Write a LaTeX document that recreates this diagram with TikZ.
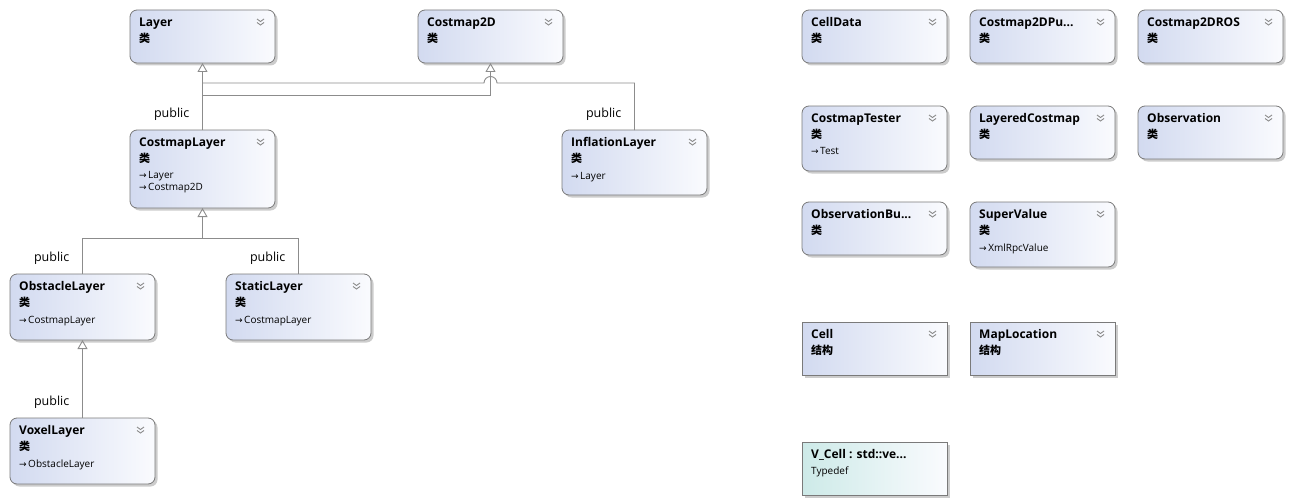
\documentclass[tikz,border=0pt]{standalone}
\usepackage{fontspec}
\setmainfont{Open Sans}
\newfontfamily\cjk{Noto Sans CJK SC}
\newfontfamily\arrowfont{DejaVu Sans}
\usetikzlibrary{arrows.meta,positioning,shadows}

\definecolor{boxline}{HTML}{7A7A7A}
\definecolor{clsleft}{HTML}{D2DAF0}
\definecolor{clsright}{HTML}{FAFBFE}
\definecolor{tdleft}{HTML}{CDEAE8}
\definecolor{connline}{HTML}{8C8C8C}
\definecolor{chevgray}{HTML}{8A8A8A}

\newcommand\boxtitle{\fontsize{12}{12}\selectfont\bfseries}
\newcommand\kindcls{{\cjk\fontsize{11}{12}\selectfont\bfseries 类}}
\newcommand\kindstruct{{\cjk\fontsize{11}{12}\selectfont\bfseries 结构}}
\newcommand\inharrow{{\arrowfont\fontsize{9}{12}\selectfont →}\hspace{1.5pt}}
\lineskiplimit=-20pt

\begin{document}
\begin{tikzpicture}[x=1pt,y=1pt,
  chev/.style={draw=chevgray,line width=0.9pt,sharp corners},
  cls/.style={rectangle,draw=boxline,line width=0.8pt,rounded corners=7pt,
    left color=clsleft,right color=clsright,minimum width=145pt,
    inner sep=0pt,outer sep=0pt,anchor=north west,
    drop shadow={shadow xshift=2.5pt,shadow yshift=-2.5pt,fill=black!25,opacity=0.8},
    path picture={
      \draw[chev] ([xshift=-18pt,yshift=-9pt]path picture bounding box.north east) -- ++(3.5pt,-2.5pt) -- ++(3.5pt,2.5pt);
      \draw[chev] ([xshift=-18pt,yshift=-12.5pt]path picture bounding box.north east) -- ++(3.5pt,-2.5pt) -- ++(3.5pt,2.5pt);
    }},
  strct/.style={cls,sharp corners},
  tdef/.style={cls,sharp corners,left color=tdleft,path picture={}},
  txt/.style={anchor=north west,inner sep=0pt,align=left,font=\fontsize{10}{12}\selectfont},
  pub/.style={anchor=east,inner sep=0pt,font=\fontsize{12.5}{13}\selectfont},
  conn/.style={draw=connline,line width=0.9pt},
  inh/.style={conn,-{Triangle[open,length=9pt,width=10pt]}}
]
  \useasboundingbox (0,0) rectangle (1291,-503);

  % class hierarchy
  \node[cls,minimum height=53] (lay) at (130,-10) {};
  \node[txt] (lay-t) at ([xshift=9,yshift=-7.5]lay.north west) {{\boxtitle Layer}\\[4pt]\kindcls};
  \node[cls,minimum height=53] (cm2d) at (418,-10) {};
  \node[txt] (cm2d-t) at ([xshift=9,yshift=-7.5]cm2d.north west) {{\boxtitle Costmap2D}\\[4pt]\kindcls};
  \node[cls,minimum height=78] (cml) at (130,-130) {};
  \node[txt] (cml-t) at ([xshift=9,yshift=-7.5]cml.north west) {{\boxtitle CostmapLayer}\\[4pt]\kindcls\\[4.5pt]\inharrow Layer\\\inharrow Costmap2D};
  \node[cls,minimum height=65] (infl) at (562,-130) {};
  \node[txt] (infl-t) at ([xshift=9,yshift=-7.5]infl.north west) {{\boxtitle InflationLayer}\\[4pt]\kindcls\\[4.5pt]\inharrow Layer};
  \node[cls,minimum height=66] (obs) at (10,-274) {};
  \node[txt] (obs-t) at ([xshift=9,yshift=-7.5]obs.north west) {{\boxtitle ObstacleLayer}\\[4pt]\kindcls\\[4.5pt]\inharrow CostmapLayer};
  \node[cls,minimum height=66] (stat) at (226,-274) {};
  \node[txt] (stat-t) at ([xshift=9,yshift=-7.5]stat.north west) {{\boxtitle StaticLayer}\\[4pt]\kindcls\\[4.5pt]\inharrow CostmapLayer};
  \node[cls,minimum height=66] (vox) at (10,-418) {};
  \node[txt] (vox-t) at ([xshift=9,yshift=-7.5]vox.north west) {{\boxtitle VoxelLayer}\\[4pt]\kindcls\\[4.5pt]\inharrow ObstacleLayer};

  % inheritance
  \draw[inh] (cml.north) -- (lay.south);
  \draw[inh] ([yshift=35]cml.north) -| (cm2d.south);
  \coordinate (hop) at (cm2d.south |- 0,-83);
  \draw[conn] (infl.north) |- ([xshift=6.5]hop) arc[start angle=0,end angle=180,radius=6.5] -- (hop -| lay.south);
  \draw[inh] (obs.north) |- ([yshift=-30]cml.south) -- (cml.south);
  \draw[conn] (stat.north) |- ([yshift=-30]cml.south);
  \draw[inh] (vox.north) -- (obs.south);
  \node[pub] (pub-cml) at ([xshift=-13,yshift=16]cml.north) {public};
  \node[pub] (pub-infl) at ([xshift=-13,yshift=16]infl.north) {public};
  \node[pub] (pub-obs) at ([xshift=-13,yshift=16]obs.north) {public};
  \node[pub] (pub-stat) at ([xshift=-13,yshift=16]stat.north) {public};
  \node[pub] (pub-vox) at ([xshift=-13,yshift=16]vox.north) {public};

  % other types
  \node[cls,minimum height=53] (cdat) at (802,-10) {};
  \node[txt] (cdat-t) at ([xshift=9,yshift=-7.5]cdat.north west) {{\boxtitle CellData}\\[4pt]\kindcls};
  \node[cls,minimum height=53] (cpub) at (970,-10) {};
  \node[txt] (cpub-t) at ([xshift=9,yshift=-7.5]cpub.north west) {{\boxtitle Costmap2DPu...}\\[4pt]\kindcls};
  \node[cls,minimum height=53] (cros) at (1138,-10) {};
  \node[txt] (cros-t) at ([xshift=9,yshift=-7.5]cros.north west) {{\boxtitle Costmap2DROS}\\[4pt]\kindcls};
  \node[cls,minimum height=65] (ctst) at (802,-106) {};
  \node[txt] (ctst-t) at ([xshift=9,yshift=-7.5]ctst.north west) {{\boxtitle CostmapTester}\\[4pt]\kindcls\\[4.5pt]\inharrow Test};
  \node[cls,minimum height=53] (lcm) at (970,-106) {};
  \node[txt] (lcm-t) at ([xshift=9,yshift=-7.5]lcm.north west) {{\boxtitle LayeredCostmap}\\[4pt]\kindcls};
  \node[cls,minimum height=53] (obsv) at (1138,-106) {};
  \node[txt] (obsv-t) at ([xshift=9,yshift=-7.5]obsv.north west) {{\boxtitle Observation}\\[4pt]\kindcls};
  \node[cls,minimum height=53] (obuf) at (802,-202) {};
  \node[txt] (obuf-t) at ([xshift=9,yshift=-7.5]obuf.north west) {{\boxtitle ObservationBu...}\\[4pt]\kindcls};
  \node[cls,minimum height=65] (sval) at (970,-202) {};
  \node[txt] (sval-t) at ([xshift=9,yshift=-7.5]sval.north west) {{\boxtitle SuperValue}\\[4pt]\kindcls\\[4.5pt]\inharrow XmlRpcValue};
  \node[strct,minimum height=53] (cell) at (802,-322) {};
  \node[txt] (cell-t) at ([xshift=9,yshift=-7.5]cell.north west) {{\boxtitle Cell}\\[4pt]\kindstruct};
  \node[strct,minimum height=53] (mloc) at (970,-322) {};
  \node[txt] (mloc-t) at ([xshift=9,yshift=-7.5]mloc.north west) {{\boxtitle MapLocation}\\[4pt]\kindstruct};
  \node[tdef,minimum height=53] (vcell) at (802,-442) {};
  \node[txt] (vcell-t) at ([xshift=9,yshift=-7.5]vcell.north west) {{\boxtitle V\_Cell : std::ve...}\\[4pt]Typedef};
\end{tikzpicture}
\end{document}
